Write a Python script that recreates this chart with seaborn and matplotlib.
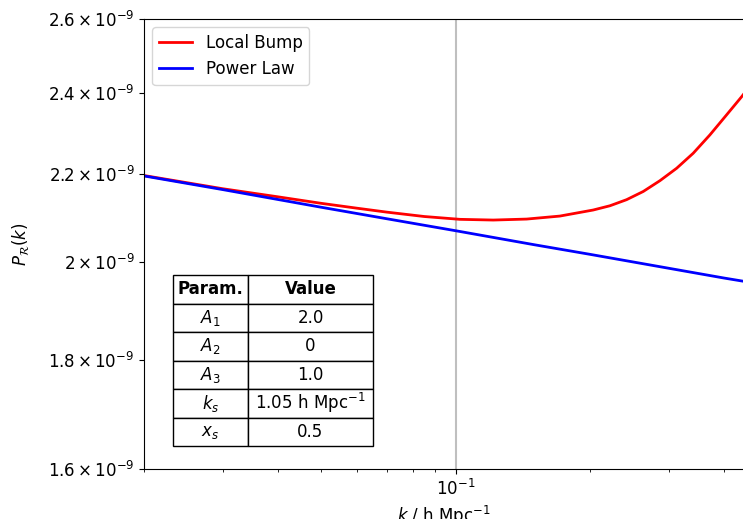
import matplotlib
matplotlib.use("Agg")
import matplotlib.pyplot as plt
import matplotlib.ticker as mticker
import numpy as np
import pandas as pd
import seaborn as sns

# Data
k_bump = [0.02, 0.03, 0.04, 0.05, 0.06, 0.07, 0.085, 0.1022, 0.1214, 0.1442, 0.1712,
          0.2034, 0.2217, 0.2416, 0.2633, 0.2870, 0.3129, 0.3408, 0.3715, 0.4049,
          0.4375, 0.45]
P_bump = [2.196, 2.165, 2.146, 2.131, 2.120, 2.111, 2.101, 2.0946, 2.0930, 2.0952, 2.1020,
          2.1158, 2.1255, 2.1395, 2.1585, 2.1838, 2.2133, 2.2494, 2.2944, 2.3445,
          2.3907, 2.409]
k_pl = [0.02, 0.03, 0.05, 0.07, 0.10, 0.15, 0.20, 0.30, 0.40, 0.45]
P_pl = [2.195, 2.163, 2.122, 2.096, 2.069, 2.038, 2.017, 1.987, 1.966, 1.958]

y_ticks = [1.6e-9, 1.8e-9, 2.0e-9, 2.2e-9, 2.4e-9, 2.6e-9]
y_ticklabels = [r"$1.6\times10^{-9}$", r"$1.8\times10^{-9}$", r"$2\times10^{-9}$",
                r"$2.2\times10^{-9}$", r"$2.4\times10^{-9}$", r"$2.6\times10^{-9}$"]

table_header = ["Param.", "Value"]
table_params = [r"$A_1$", r"$A_2$", r"$A_3$", r"$k_s$", r"$x_s$"]
table_values = ["2.0", "0", "1.0", r"1.05 h Mpc$^{-1}$", "0.5"]

plt.rcParams["font.size"] = 12

df = pd.concat([
    pd.DataFrame({"k": k_bump, "P": np.array(P_bump) * 1e-9, "model": "Local Bump"}),
    pd.DataFrame({"k": k_pl, "P": np.array(P_pl) * 1e-9, "model": "Power Law"}),
])

fig = plt.figure(figsize=(7.43, 5.19), dpi=100)
ax = fig.add_axes([144 / 743, 50 / 519, 600 / 743, 450 / 519])
ax.set_xscale("log")
ax.set_yscale("log")

ax.axvline(0.1, color="0.75", lw=1.5, zorder=0)
sns.lineplot(data=df, x="k", y="P", hue="model", palette={"Local Bump": "red", "Power Law": "blue"},
             lw=2, ax=ax, sort=False, estimator=None)

ax.set_xlim(0.02, 0.443)
ax.set_ylim(1.6e-9, 2.6e-9)
ax.yaxis.set_major_locator(mticker.FixedLocator(y_ticks))
ax.yaxis.set_major_formatter(mticker.FixedFormatter(y_ticklabels))
ax.yaxis.set_minor_locator(mticker.NullLocator())
ax.xaxis.set_minor_formatter(mticker.NullFormatter())

ax.set_xlabel(r"$k$ / h Mpc$^{-1}$")
ax.set_ylabel(r"$P_\mathcal{R}(k)$", labelpad=12)
ax.legend(loc="upper left", title=None, fontsize=12)

cells = [[p, v] for p, v in zip(table_params, table_values)]
tab = ax.table(cellText=cells, colLabels=table_header, cellLoc="center",
               colWidths=[75 / 200, 125 / 200],
               bbox=[29 / 600, 23 / 450, 200 / 600, 171 / 450])
tab.auto_set_font_size(False)
tab.set_fontsize(12)
for (r, c), cell in tab.get_celld().items():
    cell.set_linewidth(1.0)
    if r == 0:
        cell.get_text().set_fontweight("bold")

fig.savefig("out.png", dpi=100)
